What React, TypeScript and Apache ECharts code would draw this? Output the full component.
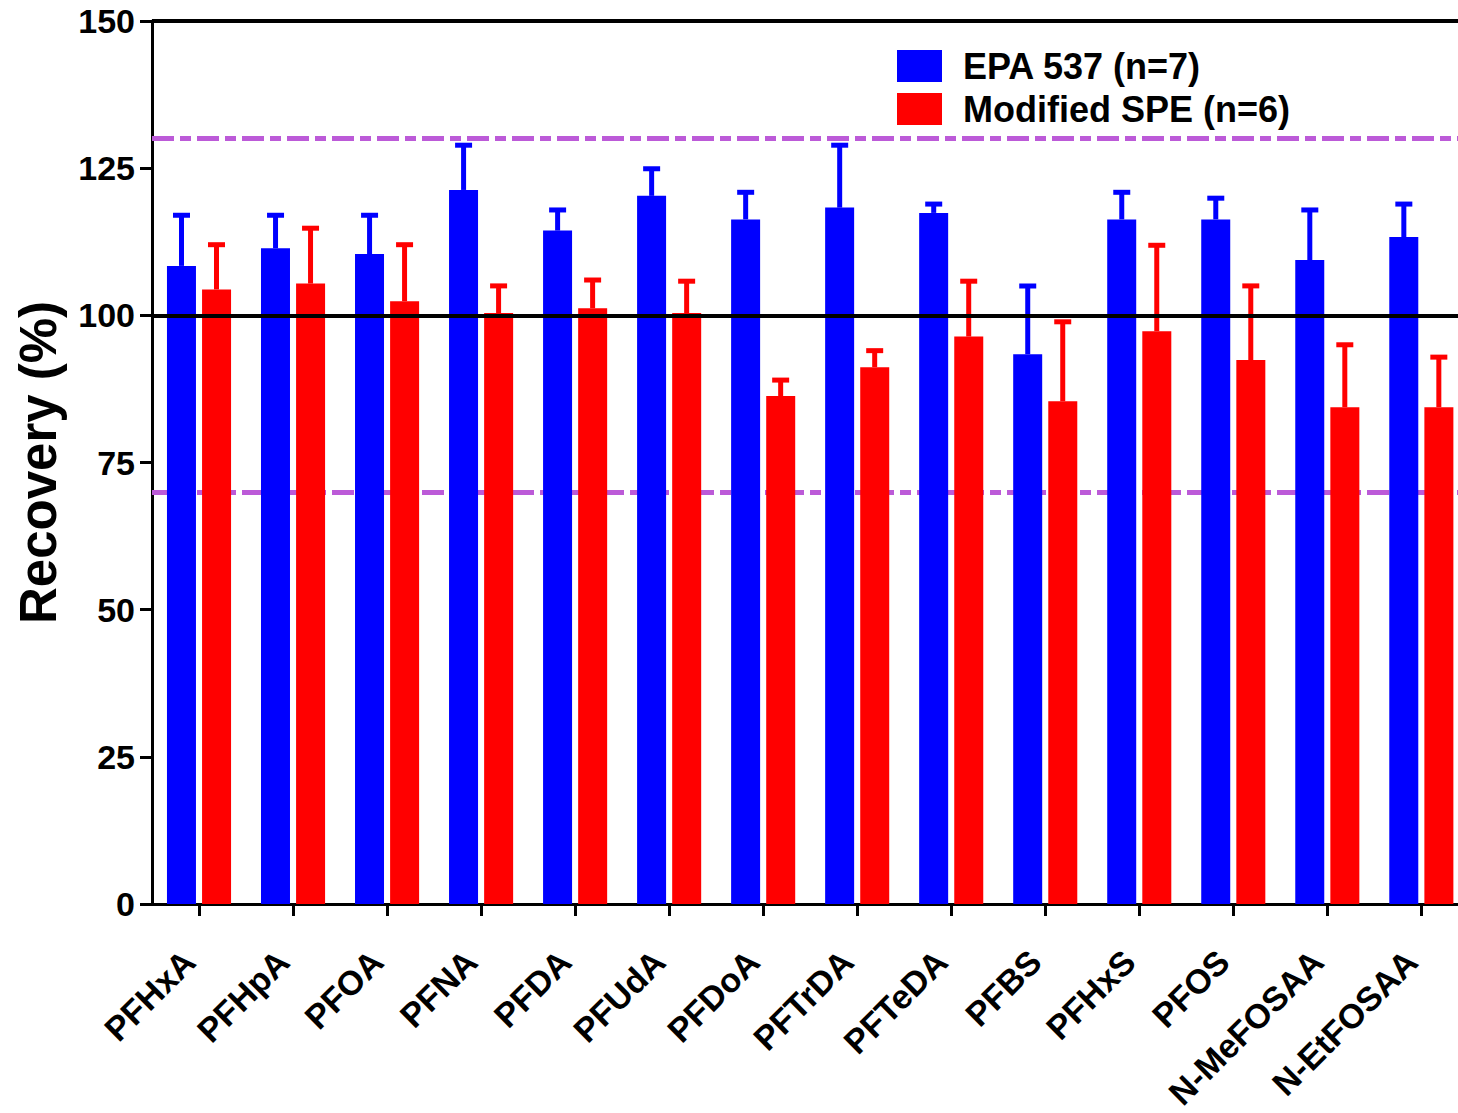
import React, { useEffect, useRef } from "react";
import * as echarts from "echarts";

const categories = [
  "PFHxA", "PFHpA", "PFOA", "PFNA", "PFDA", "PFUdA", "PFDoA",
  "PFTrDA", "PFTeDA", "PFBS", "PFHxS", "PFOS", "N-MeFOSAA", "N-EtFOSAA",
];
const epaMean = [108.4, 111.4, 110.4, 121.3, 114.4, 120.3, 116.3, 118.3, 117.4, 93.4, 116.3, 116.3, 109.4, 113.3];
const epaSd = [8.6, 5.6, 6.6, 7.6, 3.5, 4.6, 4.6, 10.6, 1.5, 11.6, 4.6, 3.6, 8.5, 5.6];
const speMean = [104.4, 105.4, 102.4, 100.4, 101.2, 100.4, 86.3, 91.2, 96.4, 85.4, 97.3, 92.4, 84.4, 84.4];
const speSd = [7.6, 9.4, 9.6, 4.6, 4.8, 5.4, 2.7, 2.8, 9.4, 13.5, 14.6, 12.6, 10.6, 8.5];
const seriesNames = ["EPA 537 (n=7)", "Modified SPE (n=6)"];
const yTicks = { min: 0, max: 150, interval: 25 };
// the right edge of the plot is cropped part-way through the last category
const xRange = { min: -0.5, max: 13.39 };
const refLines = { target: 100, upper: 130, lower: 70, top: 150 };

const FONT = "'Liberation Sans', Arial, sans-serif";
const BLUE = "#0000FF";
const RED = "#FF0000";
const PURPLE = "#BC5AD8";

function errorRenderer(offset: number, color: string) {
  return (params: any, api: any) => {
    const i = api.value(0);
    const top = api.coord([i, api.value(2)]);
    const base = api.coord([i, api.value(1)]);
    const x = top[0] + offset;
    return {
      type: "group",
      children: [
        {
          type: "rect",
          shape: { x: x - 2.5, y: top[1], width: 5, height: base[1] - top[1] },
          style: { fill: color },
        },
        {
          type: "rect",
          shape: { x: x - 8.5, y: top[1] - 2.5, width: 17, height: 5 },
          style: { fill: color },
        },
      ],
    };
  };
}

export default function App() {
  const ref = useRef<HTMLDivElement>(null);
  useEffect(() => {
    if (!ref.current) return;
    const chart = echarts.init(ref.current, null, { renderer: "svg" });
    const idx = categories.map((_, i) => i);
    const epaData = epaMean.map((m, i) => [i, m]);
    const speData = speMean.map((m, i) => [i, m]);
    const epaErr = epaMean.map((m, i) => [i, m, m + epaSd[i]]);
    const speErr = speMean.map((m, i) => [i, m, m + speSd[i]]);
    chart.setOption({
      animation: false,
      textStyle: { fontFamily: FONT },
      legend: {
        orient: "vertical",
        left: 897,
        top: 48,
        padding: 0,
        itemWidth: 45,
        itemHeight: 32,
        itemGap: 7,
        icon: "rect",
        data: seriesNames,
        textStyle: {
          fontFamily: FONT,
          fontSize: 36,
          fontWeight: "bold",
          color: "#000",
          padding: [0, 0, 0, 16],
        },
      },
      grid: { left: 152, top: 21, right: 0, height: 883, containLabel: false },
      xAxis: {
        type: "value",
        min: xRange.min,
        max: xRange.max,
        axisLine: { show: true, onZero: false, lineStyle: { color: "#000", width: 3 } },
        axisTick: { show: true, customValues: idx, length: 12, lineStyle: { color: "#000", width: 3 } },
        axisLabel: {
          customValues: idx,
          formatter: (v: number) => categories[Math.round(v)] ?? "",
          rotate: 45,
          margin: 42,
          padding: [0, 14, 0, 0],
          fontFamily: FONT,
          fontSize: 34,
          fontWeight: "bold",
          color: "#000",
        },
        splitLine: { show: false },
      },
      yAxis: {
        type: "value",
        min: yTicks.min,
        max: yTicks.max,
        interval: yTicks.interval,
        name: "Recovery (%)",
        nameLocation: "middle",
        nameRotate: 90,
        nameGap: 88,
        nameTextStyle: { fontFamily: FONT, fontSize: 51, fontWeight: "bold", color: "#000", lineHeight: 51 },
        axisLine: { show: true, onZero: false, lineStyle: { color: "#000", width: 3 } },
        axisTick: { show: true, length: 12, lineStyle: { color: "#000", width: 3 } },
        axisLabel: { margin: 17, fontFamily: FONT, fontSize: 34, fontWeight: "bold", color: "#000" },
        splitLine: { show: false },
      },
      series: [
        {
          name: seriesNames[0],
          type: "bar",
          data: epaData,
          barWidth: 29,
          barGap: "21%",
          itemStyle: { color: BLUE },
          z: 2,
          markLine: {
            silent: true,
            symbol: "none",
            z: 1,
            label: { show: false },
            lineStyle: { color: PURPLE, width: 5, type: [22, 6, 11, 6] },
            data: [{ yAxis: refLines.upper }, { yAxis: refLines.lower }],
          },
        },
        {
          name: seriesNames[1],
          type: "bar",
          data: speData,
          barWidth: 29,
          barGap: "21%",
          itemStyle: { color: RED },
          z: 2,
          markLine: {
            silent: true,
            symbol: "none",
            z: 10,
            label: { show: false },
            lineStyle: { color: "#000", width: 4, type: "solid" },
            data: [{ yAxis: refLines.target }, { yAxis: refLines.top }],
          },
        },
        {
          type: "custom",
          name: "epaErr",
          data: epaErr,
          z: 3,
          renderItem: errorRenderer(-17.5, BLUE),
          encode: { x: 0, y: [1, 2] },
        },
        {
          type: "custom",
          name: "speErr",
          data: speErr,
          z: 3,
          renderItem: errorRenderer(17.5, RED),
          encode: { x: 0, y: [1, 2] },
        },
      ],
    });
    return () => chart.dispose();
  }, []);
  return (
    <div
      ref={ref}
      style={{ position: "absolute", left: 0, top: 0, width: 1458, height: 1113, overflow: "hidden", background: "#fff" }}
    />
  );
}
